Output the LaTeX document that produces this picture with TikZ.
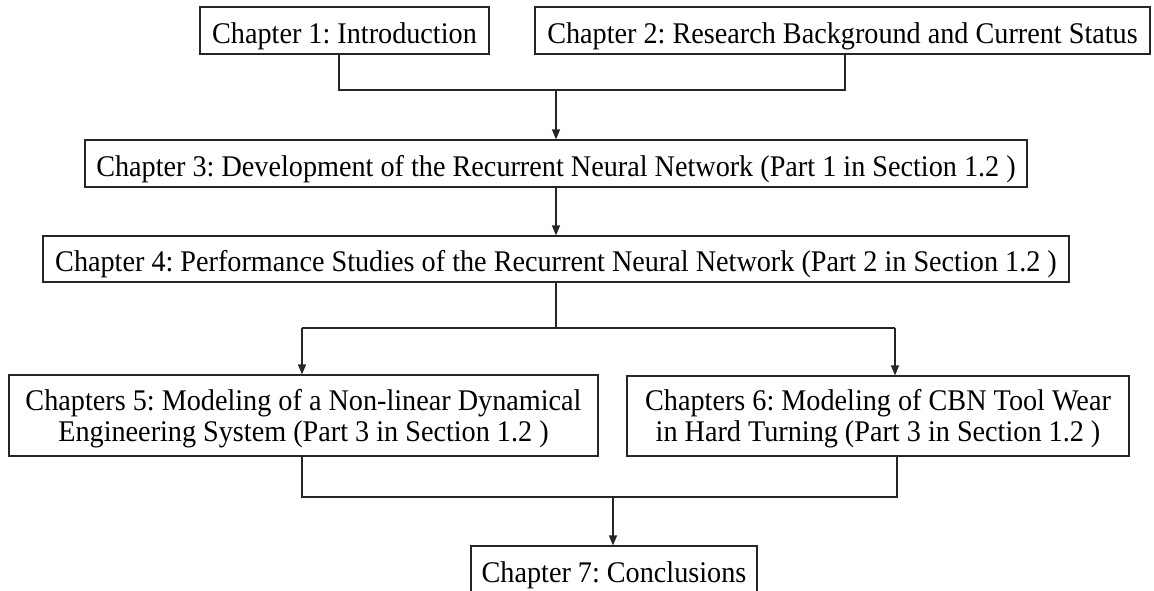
\documentclass[tikz,border=0pt]{standalone}
\usepackage{fontspec}
\setmainfont{Liberation Serif}[FakeStretch=0.94]
\usetikzlibrary{arrows.meta}

\tikzset{
  chap/.style={draw=black!85, line width=1.2pt, inner sep=0pt, align=center,
    font=\frenchspacing\fontsize{30}{31}\selectfont, text height=25pt, text depth=0pt},
  twoline/.style={text height=53pt, text depth=2pt},
  link/.style={draw=black!85, line width=1.2pt},
  arr/.style={link, -{Triangle[length=10pt,width=8pt]}}
}

\begin{document}
\begin{tikzpicture}[x=1pt,y=-1pt]
\clip (0,0) rectangle (1154,590);

% chapter boxes
\node[chap, minimum width=289pt, minimum height=47pt] (c1) at (344.5,30.5) {Chapter 1: Introduction};
\node[chap, minimum width=615pt, minimum height=47pt] (c2) at (842.5,30.5) {Chapter 2: Research Background and Current Status};
\node[chap, minimum width=942pt, minimum height=47pt] (c3) at (556,163.5) {Chapter 3: Development of the Recurrent Neural Network (Part 1 in Section 1.2 )};
\node[chap, minimum width=1026pt, minimum height=46pt] (c4) at (556,259) {Chapter 4: Performance Studies of the Recurrent Neural Network (Part 2 in Section 1.2 )};
\node[chap, twoline, minimum width=589pt, minimum height=81pt] (c5) at (303.5,415.5) {Chapters 5: Modeling of a Non-linear Dynamical\\Engineering System (Part 3 in Section 1.2 )};
\node[chap, twoline, minimum width=502pt, minimum height=80pt] (c6) at (878,416) {Chapters 6: Modeling of CBN Tool Wear\\in Hard Turning (Part 3 in Section 1.2 )};
\node[chap, minimum width=286pt, minimum height=47pt] (c7) at (614,569.5) {Chapter 7: Conclusions};

% junction points of the brackets
\coordinate (t1) at (339,90);
\coordinate (t2) at (845,90);
\coordinate (tm) at (556,90);
\coordinate (m1) at (302,328);
\coordinate (m2) at (895,328);
\coordinate (b1) at (302,497);
\coordinate (b2) at (897,497);
\coordinate (bm) at (613,497);

% chapters 1 and 2 lead into chapter 3
\draw[link] (c1.south -| t1) -- (t1) -- (t2) -- (c2.south -| t2);
\draw[arr] (tm) -- (c3.north -| tm);

% chapter 3 to chapter 4
\draw[arr] (c3.south) -- (c4.north);

% chapter 4 splits into chapters 5 and 6
\draw[link] (c4.south) -- (c4.south |- m1);
\draw[link] (m1) -- (m2);
\draw[arr] (m1) -- (c5.north -| m1);
\draw[arr] (m2) -- (c6.north -| m2);

% chapters 5 and 6 join into chapter 7
\draw[link] (c5.south -| b1) -- (b1) -- (b2) -- (c6.south -| b2);
\draw[arr] (bm) -- (c7.north -| bm);
\end{tikzpicture}
\end{document}
